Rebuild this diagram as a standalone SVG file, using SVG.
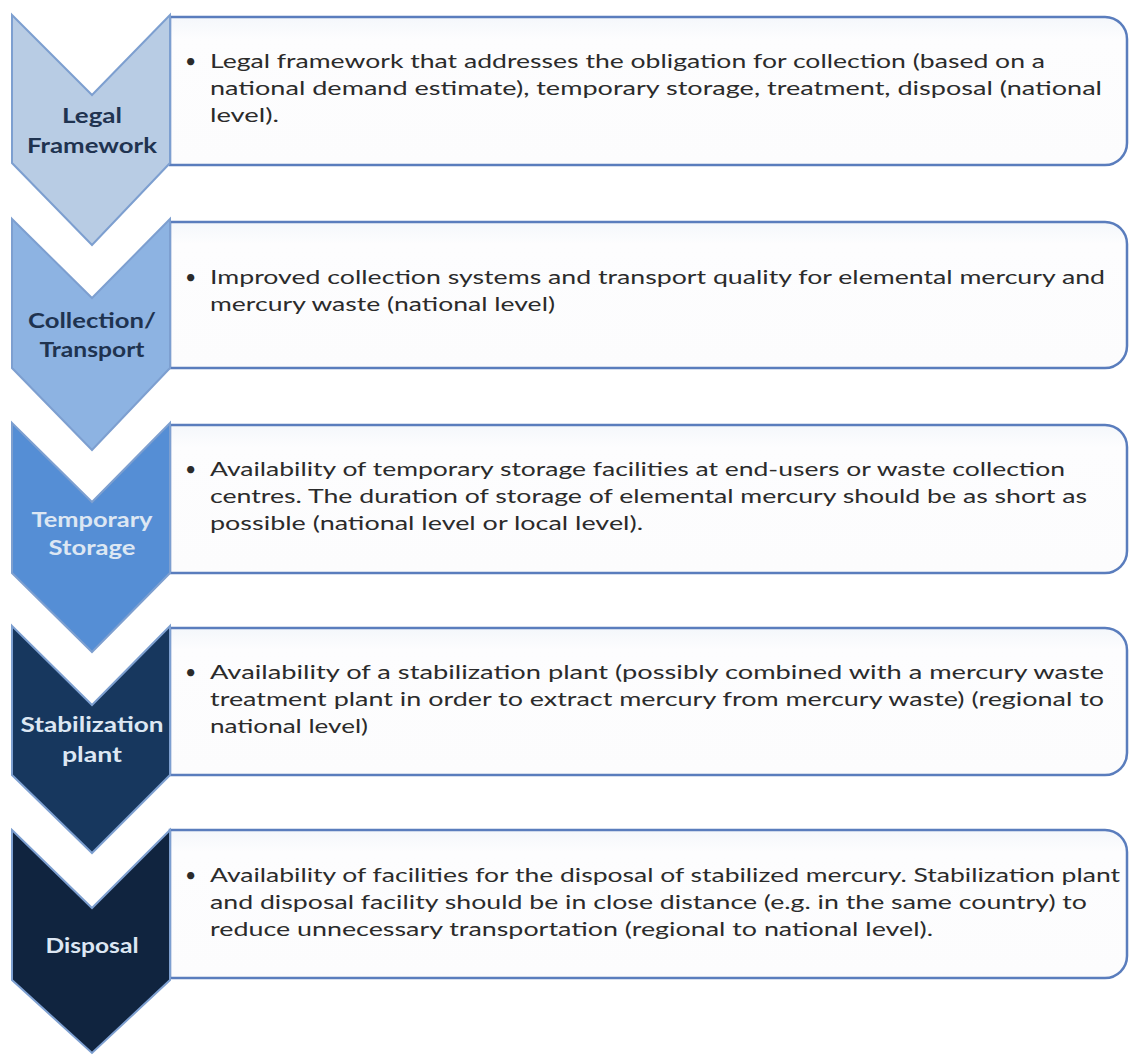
<svg xmlns="http://www.w3.org/2000/svg" width="1132" height="1057" viewBox="0 0 1132 1057">
<defs>
<linearGradient id="bg" x1="0" y1="0" x2="0" y2="1">
<stop offset="0" stop-color="#f4f7fb"/>
<stop offset="0.15" stop-color="#fdfdfe"/>
<stop offset="1" stop-color="#fcfcfd"/>
</linearGradient>
<style>
.box{fill:url(#bg);stroke:#5a7dbd;stroke-width:2.5}
.chev{stroke:#7d9fd0;stroke-width:2}
.lbl{font-family:Lato,"Open Sans",sans-serif;font-weight:bold;font-size:21.5px;text-anchor:middle}
.txt{font-family:Lato,"Open Sans",sans-serif;font-size:19.5px;fill:#2b2b2b}
.dark{fill:#1f3350}
.light{fill:#dde7f3}
</style>
</defs>
<rect width="1132" height="1057" fill="#ffffff"/>

<g id="step1">
<path class="box" d="M170,17 H1105 A22,22 0 0 1 1127,39 V143 A22,22 0 0 1 1105,165 H170 Z"/>
<polygon class="chev" fill="#b8cce4" points="12,15 92,95 170,15 170,163 92,245 12,163"/>
<text class="lbl dark" x="92" y="123" textLength="60" lengthAdjust="spacingAndGlyphs">Legal</text>
<text class="lbl dark" x="92" y="153" textLength="130" lengthAdjust="spacingAndGlyphs">Framework</text>
<text class="txt" x="185" y="68" font-size="24">•</text>
<text class="txt" x="210" y="68" textLength="835" lengthAdjust="spacingAndGlyphs">Legal framework that addresses the obligation for collection (based on a</text>
<text class="txt" x="210" y="95" textLength="892" lengthAdjust="spacingAndGlyphs">national demand estimate), temporary storage, treatment, disposal (national</text>
<text class="txt" x="210" y="122" textLength="69" lengthAdjust="spacingAndGlyphs">level).</text>
</g>

<g id="step2">
<path class="box" d="M170,222 H1105 A22,22 0 0 1 1127,244 V346 A22,22 0 0 1 1105,368 H170 Z"/>
<polygon class="chev" fill="#8db3e2" points="12,219 92,298 170,219 170,368 92,450 12,368"/>
<text class="lbl dark" x="92" y="328" textLength="128" lengthAdjust="spacingAndGlyphs">Collection/</text>
<text class="lbl dark" x="92" y="357" textLength="105" lengthAdjust="spacingAndGlyphs">Transport</text>
<text class="txt" x="185" y="284" font-size="24">•</text>
<text class="txt" x="210" y="284" textLength="895" lengthAdjust="spacingAndGlyphs">Improved collection systems and transport quality for elemental mercury and</text>
<text class="txt" x="210" y="311" textLength="345" lengthAdjust="spacingAndGlyphs">mercury waste (national level)</text>
</g>

<g id="step3">
<path class="box" d="M170,425 H1105 A22,22 0 0 1 1127,447 V551 A22,22 0 0 1 1105,573 H170 Z"/>
<polygon class="chev" fill="#558ed5" points="12,423 92,502 170,423 170,573 92,652 12,573"/>
<text class="lbl light" x="92" y="527" textLength="121" lengthAdjust="spacingAndGlyphs">Temporary</text>
<text class="lbl light" x="92" y="555" textLength="87" lengthAdjust="spacingAndGlyphs">Storage</text>
<text class="txt" x="185" y="476" font-size="24">•</text>
<text class="txt" x="210" y="476" textLength="855" lengthAdjust="spacingAndGlyphs">Availability of temporary storage facilities at end-users or waste collection</text>
<text class="txt" x="210" y="503" textLength="877" lengthAdjust="spacingAndGlyphs">centres. The duration of storage of elemental mercury should be as short as</text>
<text class="txt" x="210" y="530" textLength="433" lengthAdjust="spacingAndGlyphs">possible (national level or local level).</text>
</g>

<g id="step4">
<path class="box" d="M170,628 H1105 A22,22 0 0 1 1127,650 V753 A22,22 0 0 1 1105,775 H170 Z"/>
<polygon class="chev" fill="#17375e" points="12,626 92,705 170,626 170,775 92,853 12,775"/>
<text class="lbl light" x="92" y="732" textLength="143" lengthAdjust="spacingAndGlyphs">Stabilization</text>
<text class="lbl light" x="92" y="762" textLength="60" lengthAdjust="spacingAndGlyphs">plant</text>
<text class="txt" x="185" y="679" font-size="24">•</text>
<text class="txt" x="210" y="679" textLength="894" lengthAdjust="spacingAndGlyphs">Availability of a stabilization plant (possibly combined with a mercury waste</text>
<text class="txt" x="210" y="706" textLength="894" lengthAdjust="spacingAndGlyphs">treatment plant in order to extract mercury from mercury waste) (regional to</text>
<text class="txt" x="210" y="733" textLength="158" lengthAdjust="spacingAndGlyphs">national level)</text>
</g>

<g id="step5">
<path class="box" d="M170,830 H1105 A22,22 0 0 1 1127,852 V956 A22,22 0 0 1 1105,978 H170 Z"/>
<polygon class="chev" fill="#10243f" points="12,830 92,908 170,830 170,980 92,1053 12,980"/>
<text class="lbl light" x="92" y="953" textLength="93" lengthAdjust="spacingAndGlyphs">Disposal</text>
<text class="txt" x="185" y="882" font-size="24">•</text>
<text class="txt" x="210" y="882" textLength="910" lengthAdjust="spacingAndGlyphs">Availability of facilities for the disposal of stabilized mercury. Stabilization plant</text>
<text class="txt" x="210" y="909" textLength="877" lengthAdjust="spacingAndGlyphs">and disposal facility should be in close distance (e.g. in the same country) to</text>
<text class="txt" x="210" y="936" textLength="723" lengthAdjust="spacingAndGlyphs">reduce unnecessary transportation (regional to national level).</text>
</g>

<g id="connectors"></g>
</svg>
